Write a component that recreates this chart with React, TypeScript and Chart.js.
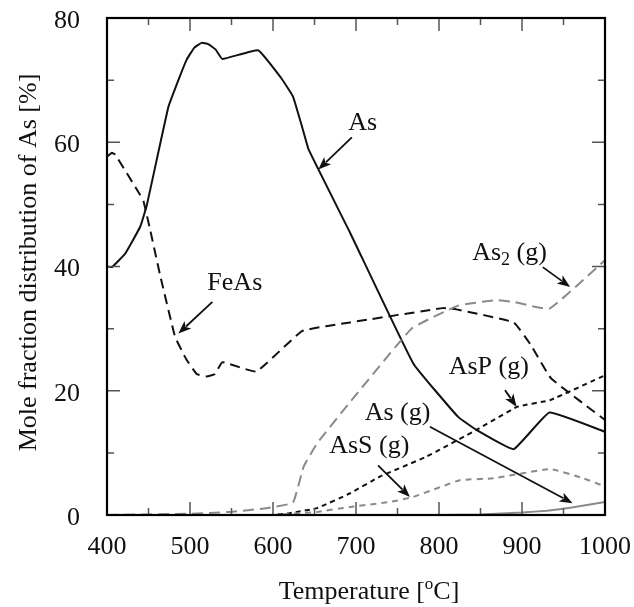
import React, { useEffect, useRef } from "react";
import { Chart, registerables } from "chart.js";

Chart.register(...registerables);

const FONT = '"Liberation Serif", "Times New Roman", serif';

// X axis (temperature, °C) tick values
const xMajorTicks = [400, 500, 600, 700, 800, 900, 1000];
const yMajorTicks = [0, 20, 40, 60, 80];

// As (solid black)
const asT = [400, 406, 422, 440, 448, 474, 486, 496, 505, 514, 522, 531, 539, 582, 610, 624, 635, 643, 693, 769, 823, 845, 890, 933, 1000];
const asV = [40, 39.9, 42.1, 46.4, 49.9, 65.7, 70, 73.3, 75.2, 76, 75.8, 74.9, 73.4, 74.8, 70.3, 67.4, 62.5, 58.8, 45.4, 24.4, 15.8, 13.7, 10.6, 16.5, 13.4];

// FeAs (black dashed)
const feT = [400, 406, 410, 440, 444, 452, 464, 482, 495, 508, 520, 530, 539, 580, 635, 693, 805, 821, 890, 910, 935, 1000];
const feV = [57.7, 58.3, 58, 51.5, 50.5, 45.9, 38.6, 28.7, 25.2, 22.7, 22.3, 22.7, 24.6, 23.1, 29.6, 31, 33.3, 33.1, 31, 27.5, 22, 15.3];

// As2 (g) (grey dashed)
const as2T = [400, 500, 548, 592, 624, 637, 653, 693, 767, 823, 869, 890, 933, 1000];
const as2V = [0, 0.2, 0.5, 1.1, 2.0, 7.8, 11.5, 18.2, 30, 33.7, 34.6, 34.3, 33.2, 41];

// AsP (g) (black short dashed)
const aspT = [400, 600, 620, 653, 693, 729, 785, 845, 894, 934, 1000];
const aspV = [0, 0, 0.3, 1.1, 3.5, 6.2, 9.4, 13.7, 17.4, 18.5, 22.5];

// AsS (g) (grey short dashed)
const assT = [400, 600, 653, 693, 741, 769, 825, 865, 934, 974, 1000];
const assV = [0, 0, 0.5, 1.3, 2.1, 2.9, 5.6, 5.9, 7.4, 5.9, 4.6];

// As (g) (grey solid)
const agT = [400, 800, 850, 900, 930, 960, 1000];
const agV = [0, 0, 0.1, 0.4, 0.7, 1.2, 2.1];

// Annotation labels (in data coordinates): text, subscript, rest, label centre, arrow from -> to
const labelNames = ["As", "FeAs", "As", "AsP (g)", "As (g)", "AsS (g)"];
const labelSubs = ["", "", "2", "", "", ""];
const labelRests = ["", "", " (g)", "", "", ""];
const labelPos = [[708, 63.1], [554, 37.3], [885, 42.2], [860, 23.8], [750, 16.4], [716, 11.1]];
const arrowFrom = [[695, 60.8], [527, 34.3], [925, 39.9], [879.5, 20.1], [789, 14.2], [726.5, 8.0]];
const arrowTo = [[654.6, 55.6], [486, 29.2], [958, 36.7], [893.6, 17.4], [961, 1.9], [765, 2.9]];

const GREY = "#8a8a8a";

function pts(t: number[], v: number[]) {
  return t.map((x, i) => ({ x, y: v[i] }));
}

const framePlugin = {
  id: "frame",
  afterDatasetsDraw(chart: any) {
    const { ctx, chartArea: a, scales } = chart;
    const x = scales.x;
    const y = scales.y;
    ctx.save();
    // ticks (inward, all four sides)
    ctx.strokeStyle = "#555";
    ctx.lineWidth = 1.5;
    ctx.beginPath();
    for (let t = 400; t <= 1000; t += 50) {
      const px = x.getPixelForValue(t);
      const len = xMajorTicks.includes(t) ? 13 : 7;
      ctx.moveTo(px, a.bottom);
      ctx.lineTo(px, a.bottom - len);
      ctx.moveTo(px, a.top);
      ctx.lineTo(px, a.top + len);
    }
    for (let v = 0; v <= 80; v += 10) {
      const py = y.getPixelForValue(v);
      const len = yMajorTicks.includes(v) ? 13 : 7;
      ctx.moveTo(a.left, py);
      ctx.lineTo(a.left + len, py);
      ctx.moveTo(a.right, py);
      ctx.lineTo(a.right - len, py);
    }
    ctx.stroke();
    // frame
    ctx.strokeStyle = "#000";
    ctx.lineWidth = 2.2;
    ctx.strokeRect(a.left, a.top, a.right - a.left, a.bottom - a.top);

    // annotations
    ctx.fillStyle = "#111";
    ctx.strokeStyle = "#111";
    ctx.textBaseline = "middle";
    for (let i = 0; i < labelNames.length; i++) {
      const cx = x.getPixelForValue(labelPos[i][0]);
      const cy = y.getPixelForValue(labelPos[i][1]);
      ctx.font = `26px ${FONT}`;
      const w1 = ctx.measureText(labelNames[i]).width;
      const w3 = ctx.measureText(labelRests[i]).width;
      ctx.font = `18px ${FONT}`;
      const w2 = ctx.measureText(labelSubs[i]).width;
      const total = w1 + w2 + w3;
      let sx = cx - total / 2;
      ctx.textAlign = "left";
      ctx.font = `26px ${FONT}`;
      ctx.fillText(labelNames[i], sx, cy);
      sx += w1;
      if (labelSubs[i]) {
        ctx.font = `18px ${FONT}`;
        ctx.fillText(labelSubs[i], sx, cy + 7);
        sx += w2;
      }
      if (labelRests[i]) {
        ctx.font = `26px ${FONT}`;
        ctx.fillText(labelRests[i], sx, cy);
      }
      // arrow
      const x1 = x.getPixelForValue(arrowFrom[i][0]);
      const y1 = y.getPixelForValue(arrowFrom[i][1]);
      const x2 = x.getPixelForValue(arrowTo[i][0]);
      const y2 = y.getPixelForValue(arrowTo[i][1]);
      const ang = Math.atan2(y2 - y1, x2 - x1);
      const hl = 13;
      const hw = 5;
      ctx.lineWidth = 1.8;
      ctx.beginPath();
      ctx.moveTo(x1, y1);
      ctx.lineTo(x2 - Math.cos(ang) * hl * 0.8, y2 - Math.sin(ang) * hl * 0.8);
      ctx.stroke();
      ctx.beginPath();
      ctx.moveTo(x2, y2);
      ctx.lineTo(x2 - Math.cos(ang) * hl - Math.sin(ang) * hw, y2 - Math.sin(ang) * hl + Math.cos(ang) * hw);
      ctx.lineTo(x2 - Math.cos(ang) * hl * 0.75, y2 - Math.sin(ang) * hl * 0.75);
      ctx.lineTo(x2 - Math.cos(ang) * hl + Math.sin(ang) * hw, y2 - Math.sin(ang) * hl - Math.cos(ang) * hw);
      ctx.closePath();
      ctx.fill();
    }

    // axis titles
    ctx.fillStyle = "#111";
    ctx.textBaseline = "alphabetic";
    const p1 = "Temperature [";
    const p3 = "C]";
    ctx.font = `26px ${FONT}`;
    const tw1 = ctx.measureText(p1).width;
    const tw3 = ctx.measureText(p3).width;
    ctx.font = `17px ${FONT}`;
    const tw2 = ctx.measureText("o").width;
    const tcx = (a.left + a.right) / 2 + 13;
    let tx = tcx - (tw1 + tw2 + tw3) / 2;
    const ty = 599;
    ctx.textAlign = "left";
    ctx.font = `26px ${FONT}`;
    ctx.fillText(p1, tx, ty);
    tx += tw1;
    ctx.font = `17px ${FONT}`;
    ctx.fillText("o", tx, ty - 10);
    tx += tw2;
    ctx.font = `26px ${FONT}`;
    ctx.fillText(p3, tx, ty);

    ctx.translate(29, (a.top + a.bottom) / 2 - 4);
    ctx.rotate(-Math.PI / 2);
    ctx.textAlign = "center";
    ctx.textBaseline = "middle";
    ctx.fillText("Mole fraction distribution of As [%]", 0, 0);
    ctx.restore();
  },
};

function noPad(s: any) {
  s.paddingTop = 0;
  s.paddingBottom = 0;
  s.paddingLeft = 0;
  s.paddingRight = 0;
}

export default function App() {
  const ref = useRef<HTMLCanvasElement | null>(null);
  useEffect(() => {
    document.body.style.margin = "0";
    const canvas = ref.current;
    if (!canvas) return;
    const common = { pointRadius: 0, tension: 0.1, fill: false, borderWidth: 2, borderJoinStyle: "round" as const };
    const chart = new Chart(canvas, {
      type: "line",
      data: {
        datasets: [
          { label: "As (g)", data: pts(agT, agV), borderColor: GREY, ...common },
          { label: "AsS (g)", data: pts(assT, assV), borderColor: GREY, borderDash: [6, 5], ...common },
          { label: "As2 (g)", data: pts(as2T, as2V), borderColor: GREY, borderDash: [11, 6], ...common },
          { label: "AsP (g)", data: pts(aspT, aspV), borderColor: "#111", borderDash: [5, 4], ...common },
          { label: "FeAs", data: pts(feT, feV), borderColor: "#111", borderDash: [10, 6], ...common },
          { label: "As", data: pts(asT, asV), borderColor: "#111", ...common },
        ],
      },
      options: {
        responsive: false,
        animation: false,
        layout: { padding: { top: 18, right: 29, left: 0, bottom: 0 } },
        plugins: { legend: { display: false }, tooltip: { enabled: false } },
        scales: {
          x: {
            type: "linear",
            min: 400,
            max: 1000,
            grid: { display: false, drawTicks: false },
            border: { display: false },
            afterBuildTicks: (s: any) => {
              s.ticks = xMajorTicks.map((v) => ({ value: v }));
            },
            afterFit: (s: any) => {
              s.height = 92;
              noPad(s);
            },
            ticks: {
              color: "#111",
              padding: 17,
              font: { family: FONT, size: 26 },
              maxRotation: 0,
              autoSkip: false,
              callback: (v: any) => String(v),
            },
          },
          y: {
            type: "linear",
            min: 0,
            max: 80,
            grid: { display: false, drawTicks: false },
            border: { display: false },
            afterBuildTicks: (s: any) => {
              s.ticks = yMajorTicks.map((v) => ({ value: v }));
            },
            afterFit: (s: any) => {
              s.width = 107;
              noPad(s);
            },
            ticks: {
              color: "#111",
              padding: 27,
              labelOffset: 3,
              font: { family: FONT, size: 26 },
              callback: (v: any) => String(v),
            },
          },
        },
      },
      plugins: [framePlugin],
    });
    return () => chart.destroy();
  }, []);
  return (
    <div style={{ position: "fixed", left: 0, top: 0, width: 634, height: 607, background: "#fff" }}>
      <canvas ref={ref} width={634} height={607} />
    </div>
  );
}
